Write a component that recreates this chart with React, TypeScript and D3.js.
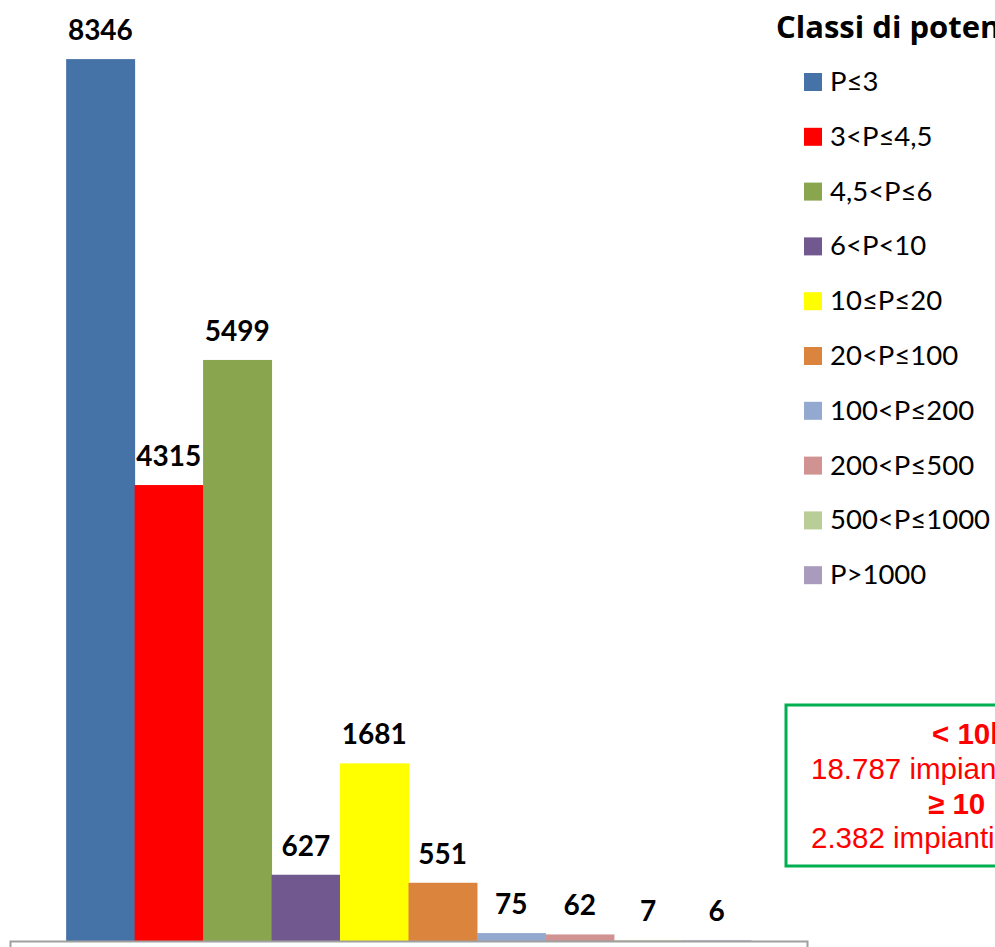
import React, { useEffect, useRef } from 'react';
import * as d3 from 'd3';

const classes = ['P≤3', '3<P≤4,5', '4,5<P≤6', '6<P<10', '10≤P≤20', '20<P≤100', '100<P≤200', '200<P≤500', '500<P≤1000', 'P>1000'];
const counts = [8346, 4315, 5499, 627, 1681, 551, 75, 62, 7, 6];
const colors = ['#4572A7', '#FF0000', '#89A54E', '#71588F', '#FFFF00', '#DB843D', '#93A9CF', '#D19392', '#B9CD96', '#A99BBD'];
const yMax = 9000;

export default function App() {
  const svgRef = useRef<SVGSVGElement>(null);

  useEffect(() => {
    if (!svgRef.current) return;
    d3.select(svgRef.current).selectAll('*').remove();

    const width = 995;
    const height = 947;
    const svg = d3.select(svgRef.current).attr('width', width).attr('height', height);

    svg.append('rect').attr('width', width).attr('height', height).attr('fill', '#fff');

    // plot area (top of the value axis lies just above the picture)
    const plotLeft = 10, plotRight = 807, baseY = 941, topY = -10;

    const x = d3.scaleBand<string>()
      .domain(classes)
      .range([plotLeft, plotRight])
      .paddingInner(0)
      .paddingOuter(0.82);

    const y = d3.scaleLinear().domain([0, yMax]).range([baseY, topY]);

    const data = classes.map((c, i) => ({ c, v: counts[i], color: colors[i] }));

    svg.selectAll('.bar')
      .data(data)
      .enter().append('rect')
      .attr('class', 'bar')
      .attr('x', d => x(d.c)!)
      .attr('y', d => y(d.v))
      .attr('width', x.bandwidth() + 0.5)
      .attr('height', d => baseY - y(d.v))
      .attr('fill', d => d.color);

    svg.selectAll('.lbl')
      .data(data)
      .enter().append('text')
      .attr('class', 'lbl')
      .attr('x', d => x(d.c)! + x.bandwidth() / 2)
      .attr('y', d => y(d.v) - 19)
      .attr('text-anchor', 'middle')
      .attr('font-family', 'Lato, sans-serif')
      .attr('font-weight', 700)
      .attr('font-size', 28)
      .attr('fill', '#000')
      .text(d => d.v);

    // category axis (single group, no labels)
    const xo = d3.scaleBand<string>().domain(['']).range([plotLeft, plotRight]);
    svg.append('g')
      .attr('transform', `translate(0,${baseY})`)
      .call(d3.axisBottom(xo).tickSizeInner(0).tickSizeOuter(7).tickFormat(() => ''))
      .call(g => g.select('.domain').attr('stroke', '#A0A0A0').attr('stroke-width', 2))
      .call(g => g.selectAll('.tick line').remove());

    // legend
    const lg = svg.append('g');
    lg.append('text')
      .attr('x', 776)
      .attr('y', 38)
      .attr('font-family', '"Open Sans", sans-serif')
      .attr('font-weight', 700)
      .attr('font-size', 31)
      .attr('fill', '#000')
      .text('Classi di potenza (kW)');

    const ly = d3.scalePoint<string>().domain(classes).range([91, 91 + 54.8 * 9]);
    const items = lg.selectAll('.li').data(data).enter().append('g').attr('class', 'li')
      .attr('transform', d => `translate(0,${ly(d.c)})`);
    items.append('rect')
      .attr('x', 804).attr('y', -18).attr('width', 18).attr('height', 18)
      .attr('fill', d => d.color);
    items.append('text')
      .attr('x', 830).attr('y', 0)
      .attr('font-family', 'Lato, sans-serif')
      .attr('font-size', 27.5)
      .attr('fill', '#000')
      .text(d => d.c);

    // summary box
    const small = d3.sum(counts.slice(0, 4));
    const big = d3.sum(counts.slice(4));
    const fmt = (n: number) => d3.format(',')(n).replace(/,/g, '.');
    svg.append('rect')
      .attr('x', 786).attr('y', 705).attr('width', 260).attr('height', 161)
      .attr('fill', '#fff').attr('stroke', '#00B050').attr('stroke-width', 3);

    const boxLines = [
      { t: '< 10kW', x: 932, y: 744, bold: true },
      { t: `${fmt(small)} impianti`, x: 811, y: 779, bold: false },
      { t: '≥ 10 kW', x: 928, y: 814, bold: true },
      { t: `${fmt(big)} impianti`, x: 811, y: 848, bold: false },
    ];
    svg.selectAll('.bx').data(boxLines).enter().append('text')
      .attr('x', d => d.x).attr('y', d => d.y)
      .attr('font-family', '"Liberation Sans", Arial, sans-serif')
      .attr('font-weight', d => (d.bold ? 700 : 400))
      .attr('font-size', 29.5)
      .attr('fill', '#FF0000')
      .text(d => d.t);
  }, []);

  return (
    <div style={{ position: 'absolute', left: 0, top: 0, width: 995, height: 947, overflow: 'hidden', background: '#fff' }}>
      <svg ref={svgRef} style={{ display: 'block' }}></svg>
    </div>
  );
}
